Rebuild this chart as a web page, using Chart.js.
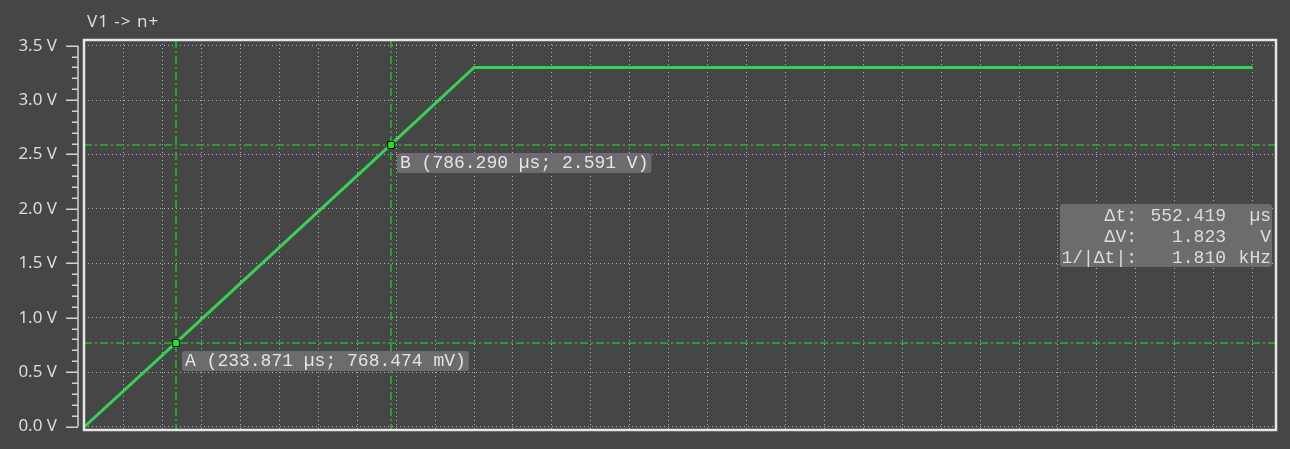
<!DOCTYPE html>
<html>
<head>
<meta charset="utf-8">
<title>V1 -> n+</title>
<script src="https://cdn.jsdelivr.net/npm/chart.js@4.4.1/dist/chart.umd.min.js"></script>
<style>
  html, body { margin: 0; padding: 0; background: #464646; }
  #wrap { width: 1290px; height: 449px; }
</style>
</head>
<body>
<div id="wrap"><canvas id="scope" width="1290" height="449"></canvas></div>
<script>
// Trace V1 -> n+ : rampe jusqu'à 3.3 V puis palier
const timeUs = [0, 233.871, 786.290, 1000, 3000];
const volts = [0, 0.768, 2.591, 3.30, 3.30];

// Graduations de l'axe vertical
const yTickValues = [0, 0.5, 1.0, 1.5, 2.0, 2.5, 3.0, 3.5];
const yTickLabels = ['0.0 V', '0.5 V', '1.0 V', '1.5 V', '2.0 V', '2.5 V', '3.0 V', '3.5 V'];

// Curseurs A et B
const cursorTimes = [233.871, 786.290];
const cursorVolts = [0.768474, 2.591];
const cursorLabels = ['A (233.871 µs; 768.474 mV)', 'B (786.290 µs; 2.591 V)'];

// Cadre des mesures entre curseurs
const deltaNames = ['Δt:', 'ΔV:', '1/|Δt|:'];
const deltaValues = ['552.419', '1.823', '1.810'];
const deltaUnits = ['µs', 'V', 'kHz'];

const traceTitle = 'V1 -> n+';

// Quadrillage horizontal (temps) : une division tous les 100 µs
const xGrid = [];
for (let t = 0; t <= 3000; t += 100) xGrid.push(t);

const BG = '#464646';
const GRID = 'rgba(200, 200, 200, 0.85)';
const CURSOR = '#1fbd1f';
const MONO = '18px "Liberation Mono", "DejaVu Sans Mono", monospace';
const SANS = '"Noto Sans", sans-serif';

const scopePlugin = {
    id: 'scope',
    beforeDraw(chart) {
        const ctx = chart.ctx;
        ctx.save();
        ctx.fillStyle = BG;
        ctx.fillRect(0, 0, chart.width, chart.height);
        ctx.restore();
    },
    beforeDatasetsDraw(chart) {
        // Lignes des curseurs en trait mixte
        const { ctx, chartArea: a, scales: { x, y } } = chart;
        ctx.save();
        ctx.strokeStyle = CURSOR;
        ctx.lineWidth = 1.5;
        ctx.setLineDash([8, 3, 2, 3]);
        cursorTimes.forEach((t, i) => {
            const px = Math.round(x.getPixelForValue(t));
            const py = Math.round(y.getPixelForValue(cursorVolts[i]));
            ctx.beginPath();
            ctx.moveTo(px, a.top);
            ctx.lineTo(px, a.bottom);
            ctx.moveTo(a.left, py);
            ctx.lineTo(a.right, py);
            ctx.stroke();
        });
        ctx.restore();
    },
    afterDatasetsDraw(chart) {
        const { ctx, chartArea: a, scales: { x, y } } = chart;
        ctx.save();
        ctx.font = MONO;
        ctx.textBaseline = 'middle';
        cursorTimes.forEach((t, i) => {
            const px = Math.round(x.getPixelForValue(t));
            const py = Math.round(y.getPixelForValue(cursorVolts[i]));
            // Marqueur
            ctx.fillStyle = '#14f014';
            ctx.strokeStyle = '#000';
            ctx.lineWidth = 1.2;
            ctx.beginPath();
            ctx.roundRect(px - 3.5, py - 3.5, 7, 7, 1.5);
            ctx.fill();
            ctx.stroke();
            // Étiquette
            const tw = ctx.measureText(cursorLabels[i]).width;
            const bx = px + 6, by = py + 8;
            ctx.fillStyle = 'rgba(112, 112, 112, 0.9)';
            ctx.beginPath();
            ctx.roundRect(bx, by, tw + 6, 20, 3);
            ctx.fill();
            ctx.fillStyle = '#e4e4e4';
            ctx.textAlign = 'left';
            ctx.fillText(cursorLabels[i], bx + 3, by + 10.5);
        });

        // Cadre Δt / ΔV / fréquence
        const boxRight = a.right - 4, boxTop = 204;
        ctx.fillStyle = 'rgba(112, 112, 112, 0.9)';
        ctx.beginPath();
        ctx.roundRect(boxRight - 212, boxTop, 212, 63, 3);
        ctx.fill();
        ctx.fillStyle = '#dcdcdc';
        ctx.textAlign = 'right';
        deltaNames.forEach((name, i) => {
            const ty = boxTop + 12.5 + i * 21;
            ctx.fillText(name, boxRight - 135, ty);
            ctx.fillText(deltaValues[i], boxRight - 46, ty);
            ctx.fillText(deltaUnits[i], boxRight - 1, ty);
        });
        ctx.restore();
    },
    afterDraw(chart) {
        const { ctx, chartArea: a, scales: { y } } = chart;
        ctx.save();
        // Cadre blanc de la zone de tracé
        ctx.strokeStyle = '#e6e6e6';
        ctx.lineWidth = 2.5;
        ctx.strokeRect(a.left, a.top, a.right - a.left, a.bottom - a.top);

        // Axe vertical avec graduations mineures
        const axisX = 78;
        ctx.strokeStyle = '#d2d2d2';
        ctx.lineWidth = 1.5;
        ctx.beginPath();
        ctx.moveTo(axisX, y.getPixelForValue(0));
        ctx.lineTo(axisX, y.getPixelForValue(3.5));
        for (let i = 0; i <= 35; i++) {
            const py = Math.round(y.getPixelForValue(i / 10)) + 0.25;
            ctx.moveTo(i % 5 === 0 ? 66 : 72, py);
            ctx.lineTo(axisX, py);
        }
        ctx.stroke();

        // Titre de la trace
        ctx.fillStyle = '#d6dce6';
        ctx.font = '17px ' + SANS;
        ctx.letterSpacing = '1px';
        ctx.textBaseline = 'middle';
        ctx.textAlign = 'left';
        ctx.fillText(traceTitle, 87, 22);
        ctx.restore();
    }
};

new Chart(document.getElementById('scope'), {
    type: 'line',
    data: {
        datasets: [{
            data: timeUs.map((t, i) => ({ x: t, y: volts[i] })),
            borderColor: '#32d452',
            borderWidth: 3,
            pointRadius: 0,
            tension: 0
        }]
    },
    options: {
        responsive: false,
        animation: false,
        devicePixelRatio: 1,
        layout: { padding: { top: 40, right: 14, bottom: 19, left: 0 } },
        plugins: {
            legend: { display: false },
            tooltip: { enabled: false }
        },
        scales: {
            x: {
                type: 'linear',
                min: -2,
                max: 3060,
                afterBuildTicks: s => { s.ticks = xGrid.map(v => ({ value: v })); },
                afterFit: s => { s.height = 0; },
                ticks: { display: false },
                grid: { color: GRID, lineWidth: 1, drawTicks: false },
                border: { display: false, dash: [1, 3] }
            },
            y: {
                type: 'linear',
                min: -0.032,
                max: 3.552,
                afterBuildTicks: s => { s.ticks = yTickValues.map(v => ({ value: v })); },
                afterFit: s => { s.width = 84; s.paddingTop = 0; s.paddingBottom = 0; },
                ticks: {
                    padding: 27,
                    color: '#d6dce6',
                    font: { family: SANS, size: 17 },
                    callback: (v, i) => yTickLabels[i]
                },
                grid: { color: GRID, lineWidth: 1, drawTicks: false },
                border: { display: false, dash: [1, 3] }
            }
        }
    },
    plugins: [scopePlugin]
});
</script>
</body>
</html>
